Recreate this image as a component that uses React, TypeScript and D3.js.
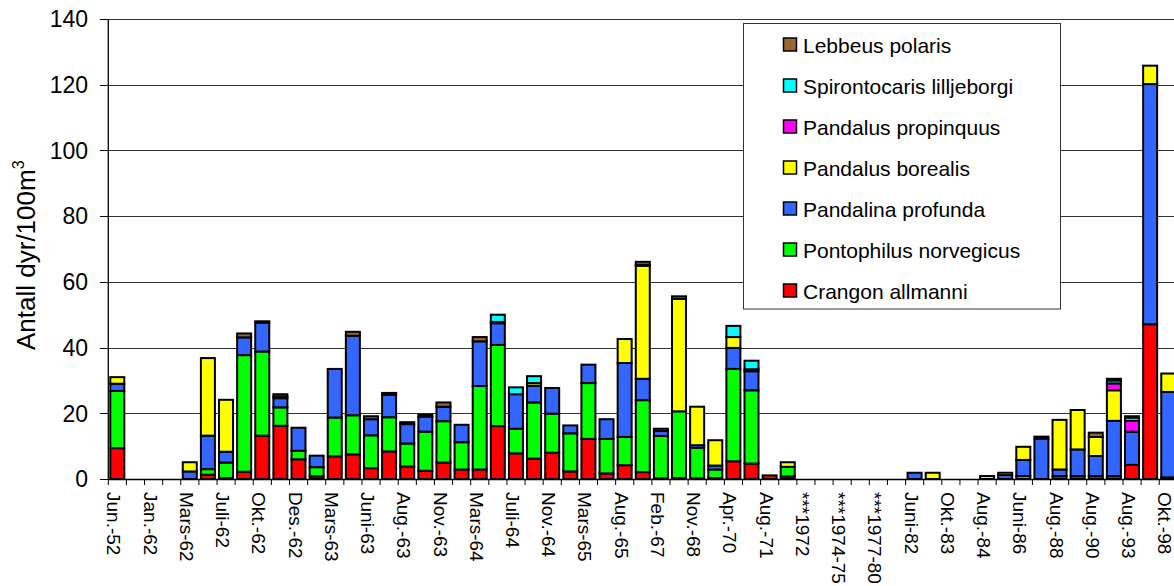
import React from 'react';
import * as d3 from 'd3';

// Tick labels shown on every second sample (category index 0, 2, 4, ...)
const tickLabels = [
  'Jun.-52', 'Jan.-62', 'Mars-62', 'Juli-62', 'Okt.-62', 'Des.-62', 'Mars-63', 'Juni-63',
  'Aug.-63', 'Nov.-63', 'Mars-64', 'Juli-64', 'Nov.-64', 'Mars-65', 'Aug.-65', 'Feb.-67',
  'Nov.-68', 'Apr.-70', 'Aug.-71', '***1972', '***1974-75', '***1977-80', 'Juni-82', 'Okt.-83',
  'Aug.-84', 'Juni-86', 'Aug.-88', 'Aug.-90', 'Aug.-93', 'Okt.-98',
];
const nSamples = 60;
const yTicks = [0, 20, 40, 60, 80, 100, 120, 140];

// Series values per sample (index 0..59)
const crangonAllmanni = [
  9.4, 0, 0, 0, 0, 1.3, 0.3, 2.2, 13.2, 16.2, 6.0, 0.8, 6.9, 7.5, 3.3, 8.4, 3.8, 2.5, 5.0, 2.9,
  2.9, 16.1, 7.8, 6.2, 8.0, 2.3, 12.2, 1.7, 4.2, 2.1, 0.2, 0.3, 0.2, 0.3, 5.4, 4.7, 1.1, 0.8, 0, 0,
  0, 0, 0, 0, 0, 0, 0, 0, 0, 0, 0, 0, 0.9, 0.9, 0.9, 0.9, 4.3, 47.1, 0, 0,
];
const pontophilusNorvegicus = [
  17.4, 0, 0, 0, 0, 1.7, 4.7, 35.5, 25.6, 5.6, 2.6, 2.8, 11.8, 11.9, 10.0, 10.4, 7.0, 11.9, 12.6, 8.3,
  25.4, 24.7, 7.5, 17.1, 11.9, 11.6, 17.0, 10.5, 8.6, 21.9, 12.9, 20.3, 9.3, 2.6, 28.1, 22.3, 0, 2.9, 0, 0,
  0, 0, 0, 0, 0, 0, 0, 0, 0, 0, 0.9, 0, 0, 0, 0, 0, 0, 0, 0.5, 0,
];
const pandalinaProfunda = [
  2.2, 0, 0, 0, 2.3, 10.2, 3.3, 5.4, 8.8, 2.8, 7.0, 3.5, 14.8, 24.2, 4.9, 6.8, 5.9, 4.6, 4.4, 5.3,
  13.6, 6.6, 10.5, 5.1, 7.8, 2.4, 5.6, 6.0, 22.5, 6.5, 1.5, 0, 0.8, 1.2, 6.4, 5.8, 0, 0, 0, 0,
  0, 0, 0, 0, 1.9, 0, 0, 0, 0, 1.2, 4.9, 12.3, 2.0, 8.1, 6.1, 16.8, 10.1, 73.1, 26.0, 0,
];
const pandalusBorealis = [
  2.0, 0, 0, 0, 2.8, 23.6, 15.8, 0, 0, 0.5, 0, 0, 0, 0, 0, 0, 0, 0, 0, 0,
  0, 0.4, 0, 0.8, 0, 0, 0, 0, 7.3, 34.4, 0, 34.2, 11.7, 7.7, 3.3, 0.6, 0, 1.4, 0, 0,
  0, 0, 0, 0, 0, 1.9, 0, 0, 0.9, 0.7, 4.0, 0, 15.1, 12.0, 5.8, 9.3, 0, 5.6, 5.6, 0,
];
const pandalusPropinquus = [
  0, 0, 0, 0, 0, 0, 0, 0, 0, 0, 0, 0, 0, 0, 0, 0, 0, 0, 0, 0,
  0, 0, 0, 0, 0, 0, 0, 0, 0, 0.3, 0, 0, 0, 0, 0, 0, 0, 0, 0, 0,
  0, 0, 0, 0, 0, 0, 0, 0, 0, 0, 0, 0, 0, 0, 0, 2.1, 3.3, 0, 0, 0,
];
const spirontocarisLilljeborgi = [
  0, 0, 0, 0, 0, 0, 0, 0, 0, 0, 0, 0, 0, 0, 0, 0, 0, 0, 0, 0,
  0, 2.2, 2.1, 2.1, 0, 0, 0, 0, 0, 0, 0, 0, 0, 0, 3.4, 2.6, 0, 0, 0, 0,
  0, 0, 0, 0, 0, 0, 0, 0, 0, 0, 0, 0.6, 0, 0, 0, 0.9, 1.0, 0, 0, 0,
];
const lebbeusPolaris = [
  0, 0, 0, 0, 0, 0, 0, 1.2, 0.4, 0.7, 0, 0, 0, 1.2, 0.9, 0.6, 0.6, 0.6, 1.3, 0,
  1.3, 0, 0, 0, 0, 0, 0, 0, 0, 0.9, 0.7, 0.8, 0, 0, 0, 0, 0, 0, 0, 0,
  0, 0, 0, 0, 0, 0, 0, 0, 0, 0, 0, 0, 0, 0, 1.3, 0.5, 0.4, 0, 0, 0,
];

const seriesNames = [
  'Crangon allmanni', 'Pontophilus norvegicus', 'Pandalina profunda', 'Pandalus borealis',
  'Pandalus propinquus', 'Spirontocaris lilljeborgi', 'Lebbeus polaris',
];
const seriesColors = ['#FF0000', '#00FF00', '#3366FF', '#FFFF00', '#FF00FF', '#00FFFF', '#996633'];
const seriesValues = [
  crangonAllmanni, pontophilusNorvegicus, pandalinaProfunda, pandalusBorealis,
  pandalusPropinquus, spirontocarisLilljeborgi, lebbeusPolaris,
];

export default function App() {
  const W = 1174, H = 586;
  const left = 108.3, bandW = 18.12, top = 19, bottom = 479;
  const x = d3.scaleBand<number>().domain(d3.range(nSamples)).range([left, left + bandW * nSamples]).padding(0);
  const y = d3.scaleLinear().domain([0, 140]).range([bottom, top]);

  const table = d3.range(nSamples).map(i => {
    const row: any = { i };
    seriesNames.forEach((n, k) => { row[n] = seriesValues[k][i]; });
    return row;
  });
  const stacked = d3.stack<any>().keys(seriesNames)(table);

  const font = 'Arial, "Liberation Sans", sans-serif';
  const legendX = 743.5, legendY = 23.5, legendW = 317, legendH = 285.5;
  const legendOrder = seriesNames.map((n, k) => k).reverse();

  return (
    <svg width={W} height={H} style={{ position: 'absolute', left: 0, top: 0, background: '#fff' }} fontFamily={font}>
      <rect x={0} y={0} width={W} height={H} fill="#fff" />
      {/* gridlines */}
      {yTicks.filter(t => t > 0).map(t => (
        <line key={t} x1={left} x2={W} y1={Math.round(y(t)) + 0.5} y2={Math.round(y(t)) + 0.5} stroke="#333" strokeWidth={1} />
      ))}
      {/* bars */}
      {stacked.map((s, k) => (
        <g key={seriesNames[k]}>
          {s.map((d, i) => {
            const v = d[1] - d[0];
            if (v <= 0) return null;
            const bx = (x(i) as number) + 2;
            return (
              <rect key={i} x={bx} width={14} y={y(d[1])} height={y(d[0]) - y(d[1])}
                fill={seriesColors[k]} stroke="#000" strokeWidth={2} />
            );
          })}
        </g>
      ))}
      {/* axes */}
      <line x1={left} x2={left} y1={top} y2={bottom} stroke="#000" strokeWidth={1.3} />
      <line x1={left} x2={W} y1={bottom + 0.5} y2={bottom + 0.5} stroke="#000" strokeWidth={1.3} />
      {yTicks.map(t => (
        <g key={t}>
          <line x1={100} x2={left} y1={Math.round(y(t)) + 0.5} y2={Math.round(y(t)) + 0.5} stroke="#000" />
          <text x={88} y={y(t)} dy="0.36em" textAnchor="end" fontSize={23} fill="#000">{t}</text>
        </g>
      ))}
      {d3.range(nSamples + 1).map(i => (
        <line key={i} x1={left + i * bandW} x2={left + i * bandW} y1={bottom} y2={bottom + 6} stroke="#000" />
      ))}
      {tickLabels.map((lab, j) => {
        const cx = (x(j * 2) as number) + x.bandwidth() / 2;
        return (
          <text key={lab} transform={`translate(${cx - 10},492) rotate(90)`} fontSize={19} fill="#000">{lab}</text>
        );
      })}
      {/* y title */}
      <text transform="translate(35,350) rotate(-90)" fontSize={26} fill="#000">
        Antall dyr/100m<tspan dy={-11} fontSize={16}>3</tspan>
      </text>
      {/* legend */}
      <rect x={legendX} y={legendY} width={legendW} height={legendH} fill="#fff" stroke="#333" strokeWidth={1} />
      {legendOrder.map((k, r) => (
        <g key={seriesNames[k]}>
          <rect x={783.5} y={38 + 41 * r} width={13} height={13} fill={seriesColors[k]} stroke="#000" strokeWidth={1.5} />
          <text x={803} y={52.5 + 41 * r} fontSize={21} fill="#000">{seriesNames[k]}</text>
        </g>
      ))}
    </svg>
  );
}
